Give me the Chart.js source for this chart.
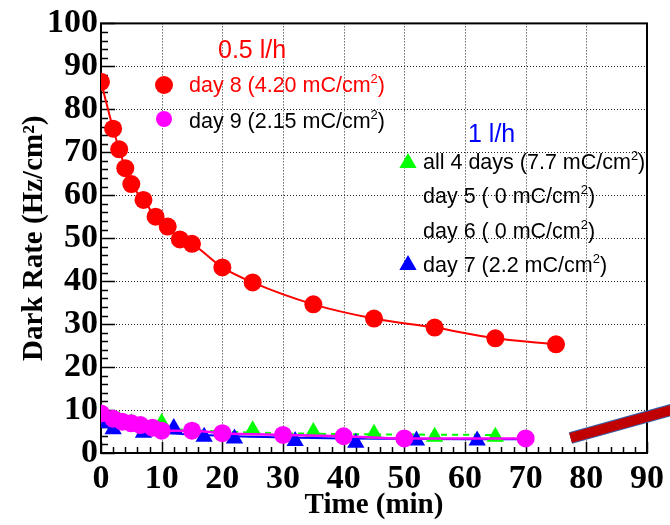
<!DOCTYPE html>
<html>
<head>
<meta charset="utf-8">
<script src="https://cdn.jsdelivr.net/npm/chart.js@4.4.1/dist/chart.umd.min.js"></script>
<style>
  body { margin: 0; background: #fff; }
  #wrap { width: 670px; height: 525px; }
</style>
</head>
<body>
<div id="wrap"><canvas id="myChart" width="670" height="525"></canvas></div>
<script>
//Data (time in min, dark rate in Hz/cm2).
let day8X = [0, 2, 3, 4, 5, 7, 9, 11, 13, 15, 20, 25, 35, 45, 55, 65, 75];
let day8Y = [86.4, 75.5, 70.7, 66.3, 62.6, 58.9, 55.0, 52.7, 49.7, 48.7, 43.2, 39.7, 34.6, 31.3, 29.2, 26.7, 25.3];

let day9X = [0, 2, 3.5, 5, 6.5, 8.5, 10, 15, 20, 30, 40, 50, 70];
let day9Y = [9.2, 8.0, 7.3, 6.9, 6.5, 5.9, 5.2, 5.2, 4.6, 4.2, 3.9, 3.4, 3.4];

let allX = [0, 3, 5, 10, 25, 35, 45, 55, 65];
let allY = [8.5, 7.5, 7.0, 7.0, 5.3, 4.9, 4.5, 3.8, 3.8];

let day7X = [0, 2, 7, 12, 17, 22, 32, 42, 52, 62];
let day7Y = [6.9, 5.5, 4.7, 5.8, 3.8, 3.4, 2.8, 2.4, 2.9, 2.9];

//Fit curves for the 1 l/h sets.
let fit7X = [0, 5, 10, 20, 30, 40, 50, 60, 70];
let fit7Y = [6.8, 5.4, 4.7, 4.0, 3.6, 3.4, 3.3, 3.2, 3.2];
let fitAllX = [0, 5, 10, 20, 30, 40, 50, 65];
let fitAllY = [8.0, 6.6, 5.8, 5.0, 4.6, 4.4, 4.3, 4.2];

//Stray thick band in the lower right corner.
let bandX = [77.4, 96];
let bandY = [3.5, 10.8];

let xTicks = [0, 10, 20, 30, 40, 50, 60, 70, 80, 90];
let yTicks = [0, 10, 20, 30, 40, 50, 60, 70, 80, 90, 100];

function toPoints(xs, ys) {
  return xs.map((x, i) => ({ x: x, y: ys[i] }));
}

let serif = "'Liberation Serif', 'DejaVu Serif', serif";
let sans = "'Liberation Sans', Arial, sans-serif";

//Dotted grid, frame and inward ticks, ROOT style.
let framePlugin = {
  id: "frame",
  beforeDatasetsDraw(chart) {
    let ctx = chart.ctx;
    let a = chart.chartArea;
    let xs = chart.scales.x;
    let ys = chart.scales.y;
    ctx.save();
    ctx.strokeStyle = "#222";
    ctx.lineWidth = 1;
    ctx.setLineDash([1, 2]);
    xTicks.slice(1, -1).forEach(v => {
      let px = Math.round(xs.getPixelForValue(v)) + 0.5;
      ctx.beginPath();
      ctx.moveTo(px, a.top);
      ctx.lineTo(px, a.bottom);
      ctx.stroke();
    });
    yTicks.slice(1, -1).forEach(v => {
      let py = Math.round(ys.getPixelForValue(v)) + 0.5;
      ctx.beginPath();
      ctx.moveTo(a.left, py);
      ctx.lineTo(a.right, py);
      ctx.stroke();
    });
    ctx.setLineDash([]);
    ctx.strokeStyle = "#000";
    ctx.lineWidth = 1.5;
    for (let v = 0; v <= 90; v += 2) {
      let px = Math.round(xs.getPixelForValue(v)) + 0.5;
      let len = v % 10 === 0 ? 11 : 6;
      ctx.beginPath();
      ctx.moveTo(px, a.bottom);
      ctx.lineTo(px, a.bottom - len);
      ctx.stroke();
    }
    for (let v = 0; v <= 100; v += 2) {
      let py = Math.round(ys.getPixelForValue(v)) + 0.5;
      let len = v % 10 === 0 ? 14 : 7;
      ctx.beginPath();
      ctx.moveTo(a.left, py);
      ctx.lineTo(a.left + len, py);
      ctx.stroke();
    }
    ctx.lineWidth = 2;
    ctx.strokeRect(a.left, a.top, a.right - a.left, a.bottom - a.top);
    ctx.restore();
  }
};

//Text with a superscript 2 after "cm".
function drawLabel(ctx, x, y, before, after, color, size) {
  ctx.fillStyle = color;
  ctx.font = size + "px " + sans;
  ctx.fillText(before, x, y);
  let w = ctx.measureText(before).width;
  ctx.font = Math.round(size * 0.62) + "px " + sans;
  ctx.fillText("2", x + w, y - size * 0.42);
  let w2 = ctx.measureText("2").width;
  ctx.font = size + "px " + sans;
  ctx.fillText(after, x + w + w2, y);
}

function drawCircle(ctx, x, y, r, color) {
  ctx.fillStyle = color;
  ctx.beginPath();
  ctx.arc(x, y, r, 0, Math.PI * 2);
  ctx.fill();
}

function drawTriangle(ctx, x, y, r, color) {
  ctx.fillStyle = color;
  ctx.beginPath();
  ctx.moveTo(x, y - r);
  ctx.lineTo(x + r * 0.866, y + r * 0.5);
  ctx.lineTo(x - r * 0.866, y + r * 0.5);
  ctx.closePath();
  ctx.fill();
}

let legendPlugin = {
  id: "legendText",
  afterDraw(chart) {
    let ctx = chart.ctx;
    ctx.save();
    ctx.textBaseline = "alphabetic";
    ctx.textAlign = "left";

    ctx.fillStyle = "#ff0000";
    ctx.font = "25px " + sans;
    ctx.fillText("0.5 l/h", 218, 58);
    drawCircle(ctx, 164, 85, 9, "#ff0000");
    drawLabel(ctx, 189, 92, "day 8 (4.20 mC/cm", ")", "#ff0000", 21.5);
    drawCircle(ctx, 164, 119, 8, "#ff00ff");
    drawLabel(ctx, 189, 128, "day 9 (2.15 mC/cm", ")", "#000", 21.5);

    ctx.fillStyle = "#0000ff";
    ctx.font = "25px " + sans;
    ctx.fillText("1 l/h", 468, 142);
    drawTriangle(ctx, 408, 163, 10, "#00ff00");
    drawLabel(ctx, 423, 169, "all 4 days (7.7 mC/cm", ")", "#000", 21.5);
    drawLabel(ctx, 423, 203, "day 5 ( 0 mC/cm", ")", "#000", 21.5);
    drawLabel(ctx, 423, 238, "day 6 ( 0 mC/cm", ")", "#000", 21.5);
    drawTriangle(ctx, 408, 265, 10, "#0000ff");
    drawLabel(ctx, 423, 272, "day 7 (2.2 mC/cm", ")", "#000", 21.5);
    ctx.restore();
  }
};

let ctx = document.getElementById("myChart").getContext("2d");

let myChart = new Chart(ctx, {
  type: "line",
  data: {
    datasets: [
      {
        label: "band edge",
        data: toPoints(bandX, bandY),
        borderColor: "#3a5fa8",
        borderWidth: 12,
        pointRadius: 0,
        clip: false,
        order: 9
      },
      {
        label: "band",
        data: toPoints(bandX, bandY),
        borderColor: "#c00000",
        borderWidth: 10,
        pointRadius: 0,
        clip: false,
        order: 8
      },
      {
        label: "all 4 days fit",
        data: toPoints(fitAllX, fitAllY),
        borderColor: "#00ff00",
        borderWidth: 2,
        borderDash: [6, 5],
        pointRadius: 0,
        cubicInterpolationMode: "monotone",
        order: 7
      },
      {
        label: "day 7 fit",
        data: toPoints(fit7X, fit7Y),
        borderColor: "#0000ff",
        borderWidth: 2,
        pointRadius: 0,
        cubicInterpolationMode: "monotone",
        order: 6
      },
      {
        label: "all 4 days",
        data: toPoints(allX, allY),
        showLine: false,
        pointStyle: "triangle",
        pointRadius: 10,
        backgroundColor: "#00ff00",
        borderColor: "#00ff00",
        borderWidth: 0,
        order: 5
      },
      {
        label: "day 7",
        data: toPoints(day7X, day7Y),
        showLine: false,
        pointStyle: "triangle",
        pointRadius: 10,
        backgroundColor: "#0000ff",
        borderColor: "#0000ff",
        borderWidth: 0,
        order: 4
      },
      {
        label: "day 9",
        data: toPoints(day9X, day9Y),
        borderColor: "#ff00ff",
        backgroundColor: "#ff00ff",
        borderWidth: 2.5,
        pointRadius: 9,
        pointBorderWidth: 0,
        cubicInterpolationMode: "monotone",
        order: 3
      },
      {
        label: "day 8",
        data: toPoints(day8X, day8Y),
        borderColor: "#ff0000",
        backgroundColor: "#ff0000",
        borderWidth: 2,
        pointRadius: 9,
        pointBorderWidth: 0,
        cubicInterpolationMode: "monotone",
        order: 2
      }
    ]
  },
  options: {
    responsive: false,
    animation: false,
    devicePixelRatio: 1,
    layout: { padding: { left: 0, right: 20, top: 22, bottom: 0 } },
    plugins: {
      legend: { display: false },
      tooltip: { enabled: false }
    },
    scales: {
      x: {
        type: "linear",
        min: 0,
        max: 90,
        afterFit: scale => { scale.height = 72; },
        afterBuildTicks: scale => { scale.ticks = xTicks.map(v => ({ value: v })); },
        grid: { display: false, drawTicks: false },
        border: { display: false },
        ticks: {
          color: "#000",
          padding: 6,
          maxRotation: 0,
          autoSkip: false,
          font: { family: serif, size: 34, weight: "bold" }
        },
        title: {
          display: true,
          text: "Time (min)",
          color: "#000",
          padding: { top: 0, bottom: 2 },
          font: { family: serif, size: 29, weight: "bold" }
        }
      },
      y: {
        type: "linear",
        min: 0,
        max: 100,
        afterFit: scale => { scale.width = 101; },
        afterBuildTicks: scale => { scale.ticks = yTicks.map(v => ({ value: v })); },
        grid: { display: false, drawTicks: false },
        border: { display: false },
        ticks: {
          color: "#000",
          padding: 3,
          autoSkip: false,
          font: { family: serif, size: 34, weight: "bold" }
        },
        title: {
          display: true,
          text: "Dark Rate (Hz/cm²)",
          color: "#000",
          padding: { top: 17, bottom: 0 },
          font: { family: serif, size: 29, weight: "bold" }
        }
      }
    }
  },
  plugins: [framePlugin, legendPlugin]
});
</script>
</body>
</html>
